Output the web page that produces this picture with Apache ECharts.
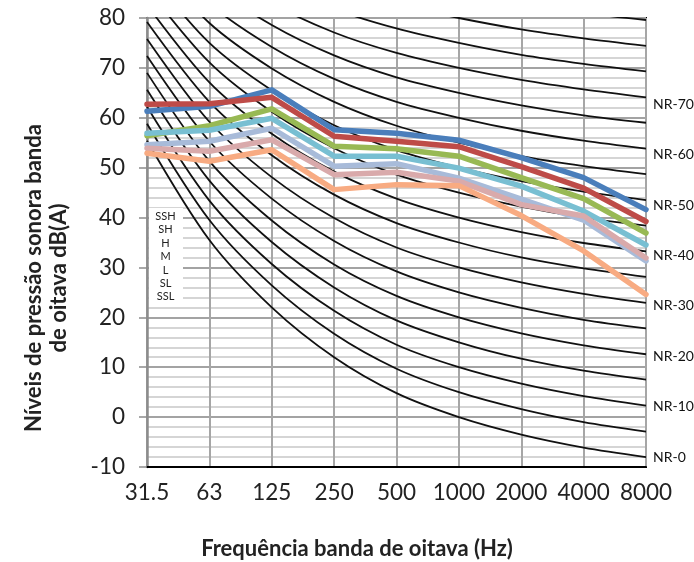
<!DOCTYPE html>
<html><head><meta charset="utf-8">
<script src="https://cdn.jsdelivr.net/npm/echarts@6/dist/echarts.min.js"></script>
<style>html,body{margin:0;padding:0;background:#fff}#c{width:694px;height:562px}</style>
</head><body><div id="c"></div>
<script>
const categories = ['31.5','63','125','250','500','1000','2000','4000','8000'];
const yTicks = { min: -10, max: 80, interval: 10 };

// NR reference curves (dB per octave band)
const NR_0  = [55.4, 35.5, 22.0, 12.0, 4.8, 0, -3.5, -6.1, -8.0];
const NR_5  = [58.8, 39.5, 26.4, 16.7, 9.7, 5, 1.6, -1.0, -2.9];
const NR_10 = [62.2, 43.4, 30.7, 21.3, 14.5, 10, 6.7, 4.2, 2.3];
const NR_15 = [65.6, 47.4, 35.1, 26.0, 19.4, 15, 11.7, 9.3, 7.5];
const NR_20 = [69.0, 51.3, 39.4, 30.6, 24.3, 20, 16.8, 14.4, 12.6];
const NR_25 = [72.4, 55.3, 43.8, 35.3, 29.2, 25, 21.9, 19.5, 17.8];
const NR_30 = [75.8, 59.2, 48.1, 39.9, 34.0, 30, 27.0, 24.7, 22.9];
const NR_35 = [79.2, 63.2, 52.5, 44.6, 38.9, 35, 32.0, 29.8, 28.1];
const NR_40 = [82.6, 67.1, 56.8, 49.2, 43.8, 40, 37.1, 34.9, 33.2];
const NR_45 = [86.0, 71.1, 61.2, 53.9, 48.6, 45, 42.2, 40.0, 38.4];
const NR_50 = [89.5, 75.0, 65.5, 58.5, 53.5, 50, 47.3, 45.2, 43.5];
const NR_55 = [92.9, 79.0, 69.9, 63.2, 58.4, 55, 52.3, 50.3, 48.7];
const NR_60 = [96.3, 82.9, 74.2, 67.8, 63.2, 60, 57.4, 55.4, 53.8];
const NR_65 = [99.7, 86.9, 78.6, 72.5, 68.1, 65, 62.5, 60.5, 59.0];
const NR_70 = [103.1, 90.8, 82.9, 77.1, 73.0, 70, 67.6, 65.7, 64.1];
const NR_75 = [106.5, 94.8, 87.3, 81.8, 77.9, 75, 72.6, 70.8, 69.3];
const NR_80 = [109.9, 98.7, 91.6, 86.4, 82.7, 80, 77.7, 75.9, 74.4];
const NR_85 = [113.3, 102.7, 96.0, 91.1, 87.6, 85, 82.8, 81.0, 79.6];

// measured series
const SSH = [61.3, 62.3, 65.6, 57.6, 56.9, 55.5, 52.0, 48.0, 41.6];
const SH  = [62.7, 62.8, 64.1, 56.3, 55.3, 54.2, 50.2, 45.9, 39.2];
const H   = [56.4, 58.4, 61.8, 54.3, 53.8, 52.3, 48.0, 43.8, 36.9];
const M   = [56.9, 57.5, 59.9, 52.3, 52.3, 49.9, 46.3, 41.3, 34.5];
const L   = [54.6, 55.3, 57.9, 50.3, 50.8, 47.9, 43.7, 39.5, 31.3];
const SL  = [53.9, 53.3, 55.6, 48.6, 49.1, 47.3, 42.6, 40.3, 31.9];
const SSL = [52.9, 51.3, 53.6, 45.6, 46.6, 46.4, 40.4, 33.3, 24.6];

const seriesNames = ['SSH','SH','H','M','L','SL','SSL'];
const seriesData = [SSH, SH, H, M, L, SL, SSL];
const seriesColors = ['#4a7ebb','#be4b48','#98b954','#78bfd2','#a8bbd9','#d9aaab','#f8ab82'];

const nrLevels = [0,5,10,15,20,25,30,35,40,45,50,55,60,65,70,75,80,85];
const nrData = [NR_0,NR_5,NR_10,NR_15,NR_20,NR_25,NR_30,NR_35,NR_40,NR_45,NR_50,NR_55,NR_60,NR_65,NR_70,NR_75,NR_80,NR_85];
const nrLabelled = [0,10,20,30,40,50,60,70];

const xTitle = 'Frequência banda de oitava (Hz)';
const yTitle = 'Níveis de pressão sonora banda\nde oitava dB(A)';

const FONT = 'Lato, "Open Sans", sans-serif';

const series = [];
nrLevels.forEach((lv, i) => {
  series.push({
    name: 'NR-' + lv, type: 'line', data: nrData[i], smooth: 0.3, symbol: 'none', silent: true, z: 2,
    lineStyle: { color: '#111', width: 1.8 },
    endLabel: {
      show: nrLabelled.indexOf(lv) >= 0, formatter: 'NR-' + lv, color: '#111', fontSize: 14, fontFamily: FONT,
      distance: 7, offset: [0, lv * 0.1]
    }
  });
});
seriesNames.forEach((n, i) => {
  series.push({
    name: n, type: 'line', data: seriesData[i], symbol: 'none', z: 3,
    lineStyle: { color: seriesColors[i], width: 5.5, cap: 'round', join: 'round' }
  });
});

const legendTexts = seriesNames.map((n, i) => ({
  type: 'text', x: 165.5, y: 216.5 + i * 13.4, z: 11,
  style: { text: n, fill: '#222', font: '11px ' + FONT, align: 'center', verticalAlign: 'middle' }
}));

const chart = echarts.init(document.getElementById('c'));
chart.setOption({
  animation: false,
  backgroundColor: '#fff',
  grid: { left: 147, right: 48, top: 18, bottom: 95, show: true, borderColor: '#000', borderWidth: 2, backgroundColor: 'transparent' },
  xAxis: {
    type: 'category', data: categories, boundaryGap: false,
    axisLine: { onZero: false, lineStyle: { color: '#000', width: 2 } },
    axisTick: { show: false },
    axisLabel: { interval: 0, fontSize: 22.5, color: '#222', margin: 14, fontFamily: FONT },
    splitLine: { show: true, lineStyle: { color: '#a6a6a6', width: 2 } }
  },
  yAxis: {
    type: 'value', min: yTicks.min, max: yTicks.max, interval: yTicks.interval,
    axisLine: { show: true, lineStyle: { color: '#8c8c8c', width: 2.5 } },
    axisTick: { show: true, length: 8, lineStyle: { color: '#8c8c8c', width: 1.5 } },
    axisLabel: { fontSize: 22.5, color: '#222', margin: 22, fontFamily: FONT },
    splitLine: { show: true, lineStyle: { color: '#a3a3a3', width: 2 } },
    minorTick: { show: false, splitNumber: 5 },
    minorSplitLine: { show: true, lineStyle: { color: '#c8c8c8', width: 1.5 } }
  },
  series: series,
  graphic: [
    { type: 'rect', shape: { x: 149, y: 208, width: 34, height: 96 }, style: { fill: '#fff' }, z: 10 },
    ...legendTexts,
    { type: 'text', x: 357, y: 549, z: 11,
      style: { text: xTitle, fill: '#222', font: 'bold 22px ' + FONT, align: 'center', verticalAlign: 'middle' } },
    { type: 'text', x: 46, y: 278, rotation: Math.PI / 2, z: 11,
      style: { text: yTitle, fill: '#222', font: 'bold 22px ' + FONT,
               align: 'center', verticalAlign: 'middle', lineHeight: 25 } }
  ]
});
</script></body></html>
